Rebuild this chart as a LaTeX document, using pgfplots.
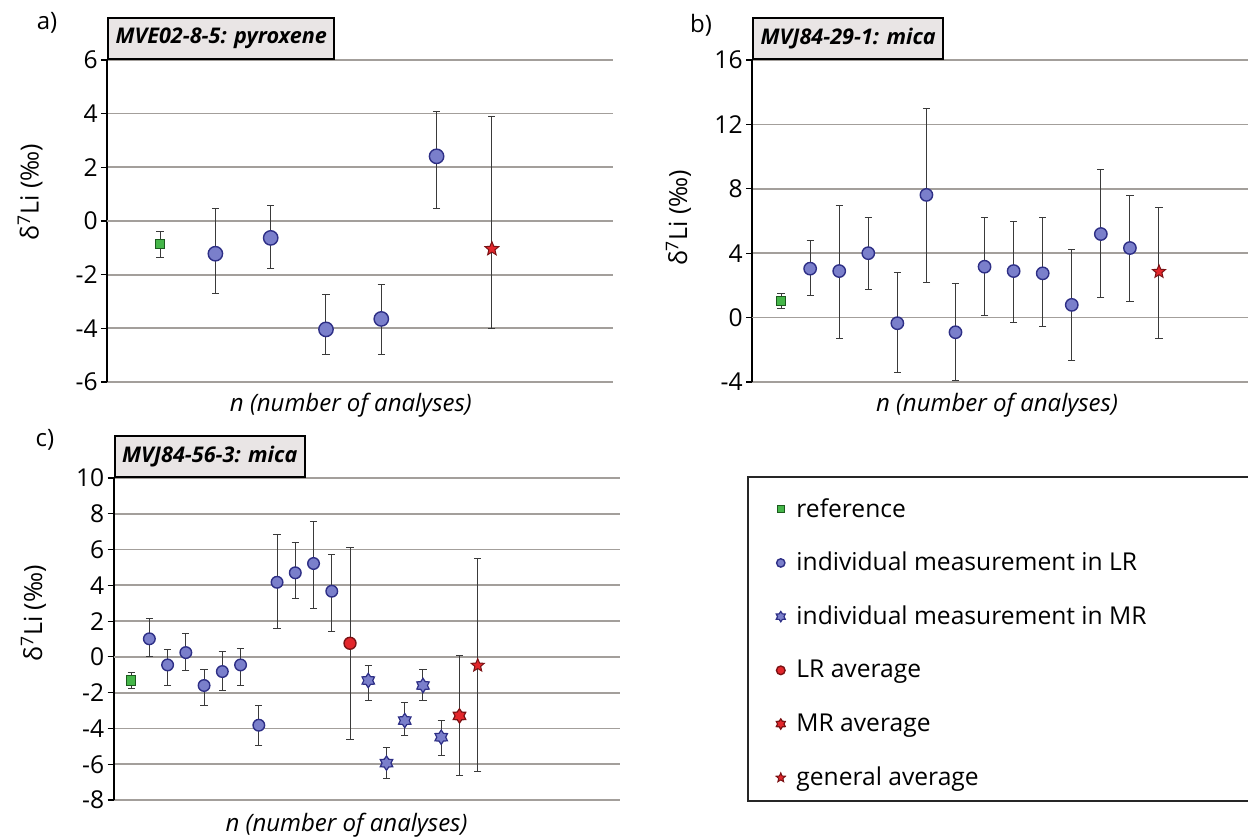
\documentclass[border=0pt]{standalone}
\usepackage{fontspec}
\setmainfont{Open Sans}
\usepackage{pgfplots}
\usepackage{pgfplotstable}
\pgfplotsset{compat=1.18}

\definecolor{gridgray}{HTML}{A39F9B}
\definecolor{refgreen}{HTML}{45B649}
\definecolor{refedge}{HTML}{1C5A1E}
\definecolor{circfill}{HTML}{7A7FCB}
\definecolor{circedge}{HTML}{2E2F86}
\definecolor{redfill}{HTML}{E3262B}
\definecolor{rededge}{HTML}{7A1214}
\definecolor{titlegray}{HTML}{E9E5E5}
\definecolor{ebar}{HTML}{3A3A3A}

\pgfdeclareplotmark{fivestar}{%
  \pgfpathmoveto{\pgfpointpolar{90}{\pgfplotmarksize}}%
  \pgfpathlineto{\pgfpointpolar{126}{0.45\pgfplotmarksize}}%
  \pgfpathlineto{\pgfpointpolar{162}{\pgfplotmarksize}}%
  \pgfpathlineto{\pgfpointpolar{198}{0.45\pgfplotmarksize}}%
  \pgfpathlineto{\pgfpointpolar{234}{\pgfplotmarksize}}%
  \pgfpathlineto{\pgfpointpolar{270}{0.45\pgfplotmarksize}}%
  \pgfpathlineto{\pgfpointpolar{306}{\pgfplotmarksize}}%
  \pgfpathlineto{\pgfpointpolar{342}{0.45\pgfplotmarksize}}%
  \pgfpathlineto{\pgfpointpolar{18}{\pgfplotmarksize}}%
  \pgfpathlineto{\pgfpointpolar{54}{0.45\pgfplotmarksize}}%
  \pgfpathclose
  \pgfusepathqfillstroke
}
\pgfdeclareplotmark{sixstar}{%
  \pgfpathmoveto{\pgfpointpolar{90}{\pgfplotmarksize}}%
  \pgfpathlineto{\pgfpointpolar{120}{0.62\pgfplotmarksize}}%
  \pgfpathlineto{\pgfpointpolar{150}{\pgfplotmarksize}}%
  \pgfpathlineto{\pgfpointpolar{180}{0.62\pgfplotmarksize}}%
  \pgfpathlineto{\pgfpointpolar{210}{\pgfplotmarksize}}%
  \pgfpathlineto{\pgfpointpolar{240}{0.62\pgfplotmarksize}}%
  \pgfpathlineto{\pgfpointpolar{270}{\pgfplotmarksize}}%
  \pgfpathlineto{\pgfpointpolar{300}{0.62\pgfplotmarksize}}%
  \pgfpathlineto{\pgfpointpolar{330}{\pgfplotmarksize}}%
  \pgfpathlineto{\pgfpointpolar{0}{0.62\pgfplotmarksize}}%
  \pgfpathlineto{\pgfpointpolar{30}{\pgfplotmarksize}}%
  \pgfpathlineto{\pgfpointpolar{60}{0.62\pgfplotmarksize}}%
  \pgfpathclose
  \pgfusepathqfillstroke
}

% ---------------- data ----------------
\pgfplotstableread{
x y hi lo
1 -0.86 -0.40 -1.35
}\aRef
\pgfplotstableread{
x y hi lo
2 -1.22 0.46 -2.70
3 -0.63 0.58 -1.78
4 -4.04 -2.75 -4.98
5 -3.65 -2.36 -4.98
6 2.41 4.09 0.45
}\aLR
\pgfplotstableread{
x y hi lo
7 -1.04 3.90 -3.99
}\aGen

\pgfplotstableread{
x y hi lo
1 1.03 1.49 0.58
}\bRef
\pgfplotstableread{
x y hi lo
2 3.04 4.81 1.36
3 2.89 6.94 -1.30
4 4.00 6.20 1.76
5 -0.35 2.81 -3.39
6 7.62 12.98 2.19
7 -0.91 2.11 -3.93
8 3.16 6.20 0.12
9 2.89 5.95 -0.31
10 2.75 6.20 -0.58
11 0.79 4.26 -2.64
12 5.19 9.19 1.26
13 4.32 7.56 1.03
}\bLR
\pgfplotstableread{
x y hi lo
14 2.85 6.84 -1.28
}\bGen

\pgfplotstableread{
x y hi lo
1 -1.32 -0.86 -1.77
}\cRef
\pgfplotstableread{
x y hi lo
2 1.01 2.12 0.00
3 -0.45 0.43 -1.58
4 0.24 1.30 -0.76
5 -1.60 -0.71 -2.74
6 -0.82 0.32 -1.86
7 -0.45 0.47 -1.58
8 -3.82 -2.74 -4.94
9 4.17 6.82 1.58
10 4.70 6.39 3.28
11 5.22 7.55 2.70
12 3.67 5.70 1.40
}\cLR
\pgfplotstableread{
x y hi lo
14 -1.32 -0.50 -2.42
15 -5.94 -5.07 -6.78
16 -3.56 -2.53 -4.42
17 -1.60 -0.71 -2.46
18 -4.49 -3.56 -5.50
}\cMR
\pgfplotstableread{
x y hi lo
13 0.76 6.09 -4.60
}\cLRavg
\pgfplotstableread{
x y hi lo
19 -3.30 0.06 -6.61
}\cMRavg
\pgfplotstableread{
x y hi lo
20 -0.48 5.48 -6.43
}\cGen

\pgfplotsset{
  /pgfplots/table/errs/.style={x=x, y=y,
    y error plus expr=\thisrow{hi}-\thisrow{y},
    y error minus expr=\thisrow{y}-\thisrow{lo}},
  panel/.style={
    scale only axis, anchor=south west, clip=false,
    xtick=\empty,
    axis lines*=left,
    x axis line style={draw=none},
    y axis line style={black, line width=1.1pt},
    ymajorgrids,
    major grid style={draw=gridgray, line width=0.85pt},
    extra y ticks={0}, extra y tick labels={},
    extra y tick style={grid style={draw=black!85, line width=1.1pt}},
    tick align=outside, major tick length=3pt,
    ytick style={black, line width=0.6pt},
    yticklabel style={font=\fontsize{12.3}{12}\selectfont, inner sep=1.5pt},
    /pgf/number format/assume math mode=true,
    every axis title/.style={at={(0,1)}, anchor=south west, draw=black, line width=1pt,
      fill=titlegray, font=\bfseries\itshape\fontsize{10.8}{12}\selectfont,
      inner xsep=3.8pt, minimum height=20.5pt},
    ylabel={δ\textsuperscript{7}Li (‰)},
    ylabel style={font=\fontsize{12.5}{12}\selectfont, anchor=center},
    xlabel={\textit{n (number of analyses)}},
    xlabel style={font=\fontsize{12}{12}\selectfont, anchor=center},
    only marks,
  },
  eb/.style={error bars/.cd, y dir=both, y explicit,
    error bar style={draw=ebar, line width=0.5pt, solid},
    error mark options={rotate=90, mark size=1.8pt, draw=ebar, line width=0.5pt, solid}},
  refm/.style={mark=square*, mark size=2.3pt, mark options={fill=refgreen, draw=refedge, line width=0.5pt, solid}},
  lrm/.style={mark=*, mark size=3pt, mark options={fill=circfill, draw=circedge, line width=0.7pt, solid}},
  mrm/.style={mark=sixstar, mark size=3.6pt, mark options={fill=circfill, draw=circedge, line width=0.6pt, solid}},
  lravgm/.style={mark=*, mark size=3pt, mark options={fill=redfill, draw=rededge, line width=0.7pt, solid}},
  mravgm/.style={mark=sixstar, mark size=3.6pt, mark options={fill=redfill, draw=rededge, line width=0.6pt, solid}},
  genm/.style={mark=fivestar, mark size=3.4pt, mark options={fill=redfill, draw=rededge, line width=0.5pt, solid}},
}

\begin{document}
\begin{tikzpicture}
\useasboundingbox (0,0) rectangle (624pt,419.5pt);

% ---------- panel a ----------
\begin{axis}[panel, at={(53.5pt,228.5pt)}, width=253pt, height=161pt,
  xmin=0.04, xmax=9.19, ymin=-6, ymax=6, ytick={-6,-4,...,6},
  title={MVE02-8-5: pyroxene},
  ylabel style={at={(axis description cs:-0.152,0.59)}},
  xlabel style={at={(axis description cs:0.482,-0.072)}}]
\addplot[refm, eb] table[errs] {\aRef};
\addplot[lrm, mark size=3.6pt, eb] table[errs] {\aLR};
\addplot[genm, mark size=3.6pt, eb] table[errs] {\aGen};
\end{axis}

% ---------- panel b ----------
\begin{axis}[panel, at={(376pt,228.5pt)}, width=250pt, height=161pt,
  xmin=0, xmax=17.2, ymin=-4, ymax=16, ytick={-4,0,...,16},
  title={MVJ84-29-1: mica},
  ylabel style={at={(axis description cs:-0.147,0.51)}},
  xlabel style={at={(axis description cs:0.49,-0.072)}}]
\addplot[refm, eb] table[errs] {\bRef};
\addplot[lrm, mark size=3.1pt, eb] table[errs] {\bLR};
\addplot[genm, eb] table[errs] {\bGen};
\end{axis}

% ---------- panel c ----------
\begin{axis}[panel, at={(56.8pt,19.5pt)}, width=253.2pt, height=161pt,
  xmin=0.04, xmax=27.8, ymin=-8, ymax=10, ytick={-8,-6,...,10},
  title={MVJ84-56-3: mica},
  ylabel style={at={(axis description cs:-0.158,0.58)}},
  xlabel style={at={(axis description cs:0.46,-0.078)}},
  legend style={at={(1.3075,0.9876)}, anchor=north west, draw=none, fill=none,
    inner sep=0pt, row sep=0pt, column sep=5.5pt,
    font=\fontsize{12.3}{14}\selectfont,
    nodes={inner sep=0pt, minimum height=26.85pt},
    cells={anchor=west}},
  legend cell align=left,
  legend image code/.code={\draw[#1, /tikz/every mark/.append style={scale=0.72}] plot coordinates {(0pt,0pt)};}]
\addplot[refm, eb] table[errs] {\cRef};
\addlegendentry{reference}
\addplot[lrm, mark size=2.9pt, eb] table[errs] {\cLR};
\addlegendentry{individual measurement in LR}
\addplot[mrm, eb] table[errs] {\cMR};
\addlegendentry{individual measurement in MR}
\addplot[lravgm, eb] table[errs] {\cLRavg};
\addlegendentry{LR average}
\addplot[mravgm, eb] table[errs] {\cMRavg};
\addlegendentry{MR average}
\addplot[genm, eb] table[errs] {\cGen};
\addlegendentry{general average}
\end{axis}

\draw[line width=1pt, draw=black!85] (374pt,19pt) rectangle (627pt,181pt);

\node[font=\fontsize{12}{14}\selectfont] at (23.5pt,408pt) {a)};
\node[font=\fontsize{12}{14}\selectfont] at (350.5pt,407pt) {b)};
\node[font=\fontsize{12}{14}\selectfont] at (22.5pt,199.5pt) {c)};
\end{tikzpicture}
\end{document}
